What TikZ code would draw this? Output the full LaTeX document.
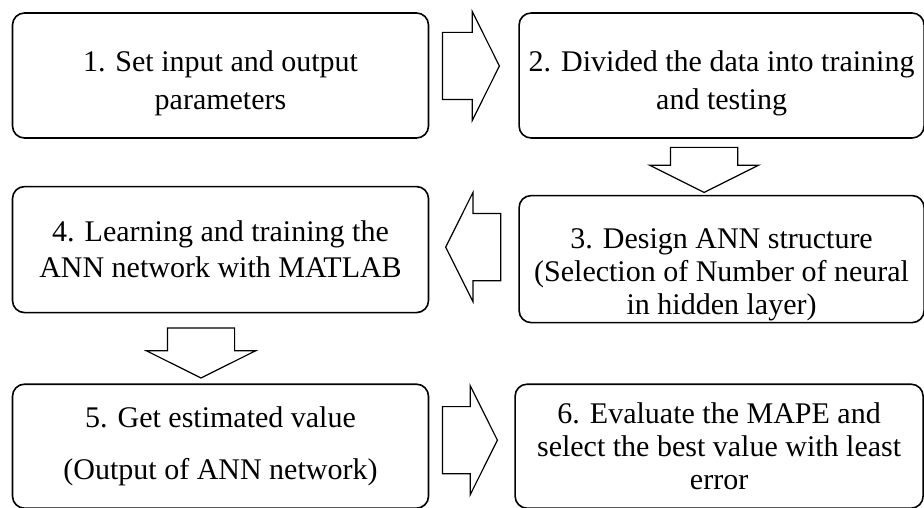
\documentclass[tikz,border=0pt]{standalone}
\usepackage{fontspec}
\setmainfont{Liberation Serif}
\usetikzlibrary{positioning, shapes.arrows, calc}

\begin{document}
\begin{tikzpicture}[
        x=1pt, y=-1pt,
        node distance=47pt and 89pt,
        box/.style={rectangle, rounded corners=12pt, draw=black, line width=1.6pt, minimum height=125pt, inner sep=0pt, align=center, font=\fontsize{30}{36}\selectfont},
        leftbox/.style={box, minimum width=416pt},
        rightbox/.style={box, minimum width=405pt},
        flow/.style={single arrow, draw=black, line width=1.2pt, fill=white, anchor=tail, minimum width=0pt, inner xsep=0pt, inner ysep=33pt, single arrow head extend=21pt, single arrow tip angle=127}
    ]
        \useasboundingbox (0,0) rectangle (924,508);

        % Boxes
        \node[leftbox] (set) at (220.5,75.5) {\rule{0pt}{37pt}1. Set input and output\\[2pt]parameters};
        \node[rightbox, right=of set] (divide) {\rule{0pt}{37pt}2. Divided the data into training\\[2pt]and testing};
        \node[rightbox, minimum height=127pt, below=56pt of divide] (design) {\rule{0pt}{52pt}3. Design ANN structure\\[-3pt](Selection of Number of neural\\[-3pt]in hidden layer)};
        \node[leftbox, minimum height=126pt, below=of set] (learn) {4. Learning and training the\\ANN network with MATLAB};
        \node[leftbox, minimum height=124pt, below=70pt of learn] (estimate) {5. Get estimated value\\[16pt](Output of ANN network)};
        \node[box, minimum width=408pt, minimum height=124pt, right=85pt of estimate] (evaluate) {6. Evaluate the MAPE and\\[-3pt]select the best value with least\\[-3pt]error};

        % Block arrows
        \node[flow, minimum height=57pt] (a12) at ($(set.east)+(12.5,-9.5)$) {};
        \node[flow, minimum height=45pt, rotate=-90] (a23) at ($(divide.south)+(-17.5,8)$) {};
        \node[flow, minimum height=55pt, rotate=180] (a34) at ($(design.west)+(-17,-12)$) {};
        \node[flow, minimum height=50pt, rotate=-90] (a45) at ($(learn.south)+(-19.5,14)$) {};
        \node[flow, minimum height=55pt] (a56) at ($(estimate.east)+(12.5,-6)$) {};

    \end{tikzpicture}
\end{document}
